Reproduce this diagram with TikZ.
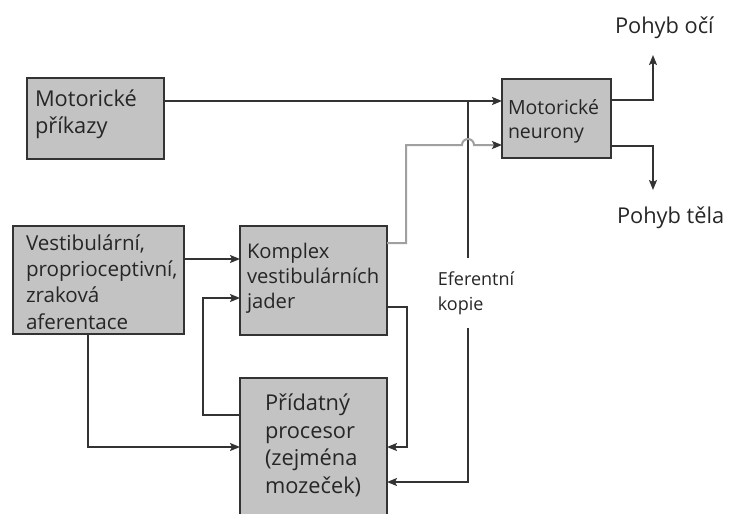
\documentclass[tikz,border=0pt]{standalone}
\usepackage{fontspec}
\setmainfont{Open Sans}
\usetikzlibrary{arrows.meta}
\definecolor{boxfill}{HTML}{C3C3C3}
\definecolor{ln}{HTML}{333333}
\definecolor{gline}{HTML}{A0A0A0}
\begin{document}
\begin{tikzpicture}[x=1pt,y=-1pt,
  box/.style={draw=ln, line width=1.8pt, fill=boxfill, inner sep=0pt, outer sep=0pt, anchor=north west},
  txt/.style={inner sep=0pt, outer sep=0pt, align=left, text=black!85, anchor=base west},
  big/.style={font=\fontsize{21.8}{26.5}\selectfont},
  mid/.style={font=\fontsize{20.2}{25}\selectfont},
  conn/.style={draw=ln, line width=1.8pt},
  arr/.style={conn, -{Stealth[length=10pt,width=8pt,inset=2pt]}},
  garr/.style={draw=gline, line width=2pt, -{Stealth[length=10pt,width=8pt,inset=2pt,color=ln]}},
]
\useasboundingbox (0,0) rectangle (731,514);
\clip (0,0) rectangle (731,514);
% boxes
\node[box, minimum width=137pt, minimum height=81pt] (mot) at (27,78) {};
\node[box, minimum width=109pt, minimum height=79pt] (neur) at (502,79) {};
\node[box, minimum width=171pt, minimum height=108pt] (vest) at (13,226) {};
\node[box, minimum width=147pt, minimum height=109pt] (komp) at (240,226) {};
\node[box, minimum width=147pt, minimum height=150pt] (proc) at (240,378) {};
% texts (anchor = baseline of last line)
\node[txt,big] (motT) at (35,133) {Motorické\\příkazy};
\node[txt,font=\fontsize{19.5}{24}\selectfont] (neurT) at (508,138) {Motorické\\neurony};
\node[txt,font=\fontsize{20.6}{26.3}\selectfont] (vestT) at (26,329) {Vestibulární,\\proprioceptivní,\\zraková\\aferentace};
\node[txt,mid] (kompT) at (247,308) {Komplex\\vestibulárních\\jader};
\node[txt,font=\fontsize{21.8}{27.5}\selectfont] (procT) at (265,493) {Přídatný\\procesor\\(zejména\\mozeček)};
\node[txt,big] (oci) at (615,33) {Pohyb očí};
\node[txt,big] (tela) at (617,223) {Pohyb těla};
\node[inner sep=0pt, outer sep=0pt, align=left, text=black!85, font=\fontsize{18}{25}\selectfont, minimum height=70pt] (eff) at (476,293) {Eferentní\\kopie};
% connectors
\coordinate (j) at (468,101);
\coordinate (up) at (653,55);
\coordinate (dn) at (653,190);
\draw[arr] (mot.east |- j) -- (neur.west |- j);
\draw[conn] (j) -- (j |- eff.north);
\draw[arr] (j |- eff.south) |- (proc.east |- 0,482);
\draw[garr] (komp.east |- 0,243) -| (406,145) -- (462,145) arc (180:360:6) -- (neur.west |- 0,145);
\draw[arr] (neur.east |- 0,100) -| (up);
\draw[arr] (neur.east |- 0,146) -| (dn);
\draw[arr] (vest.east |- 0,259) -- (komp.west |- 0,259);
\draw[arr] (proc.west |- 0,415) -| (203,298) -- (komp.west |- 0,298);
\draw[arr] (komp.east |- 0,307) -| (407,447) -- (proc.east |- 0,447);
\draw[arr] (vest.south -| 88,0) |- (proc.west |- 0,447);
\end{tikzpicture}
\end{document}
